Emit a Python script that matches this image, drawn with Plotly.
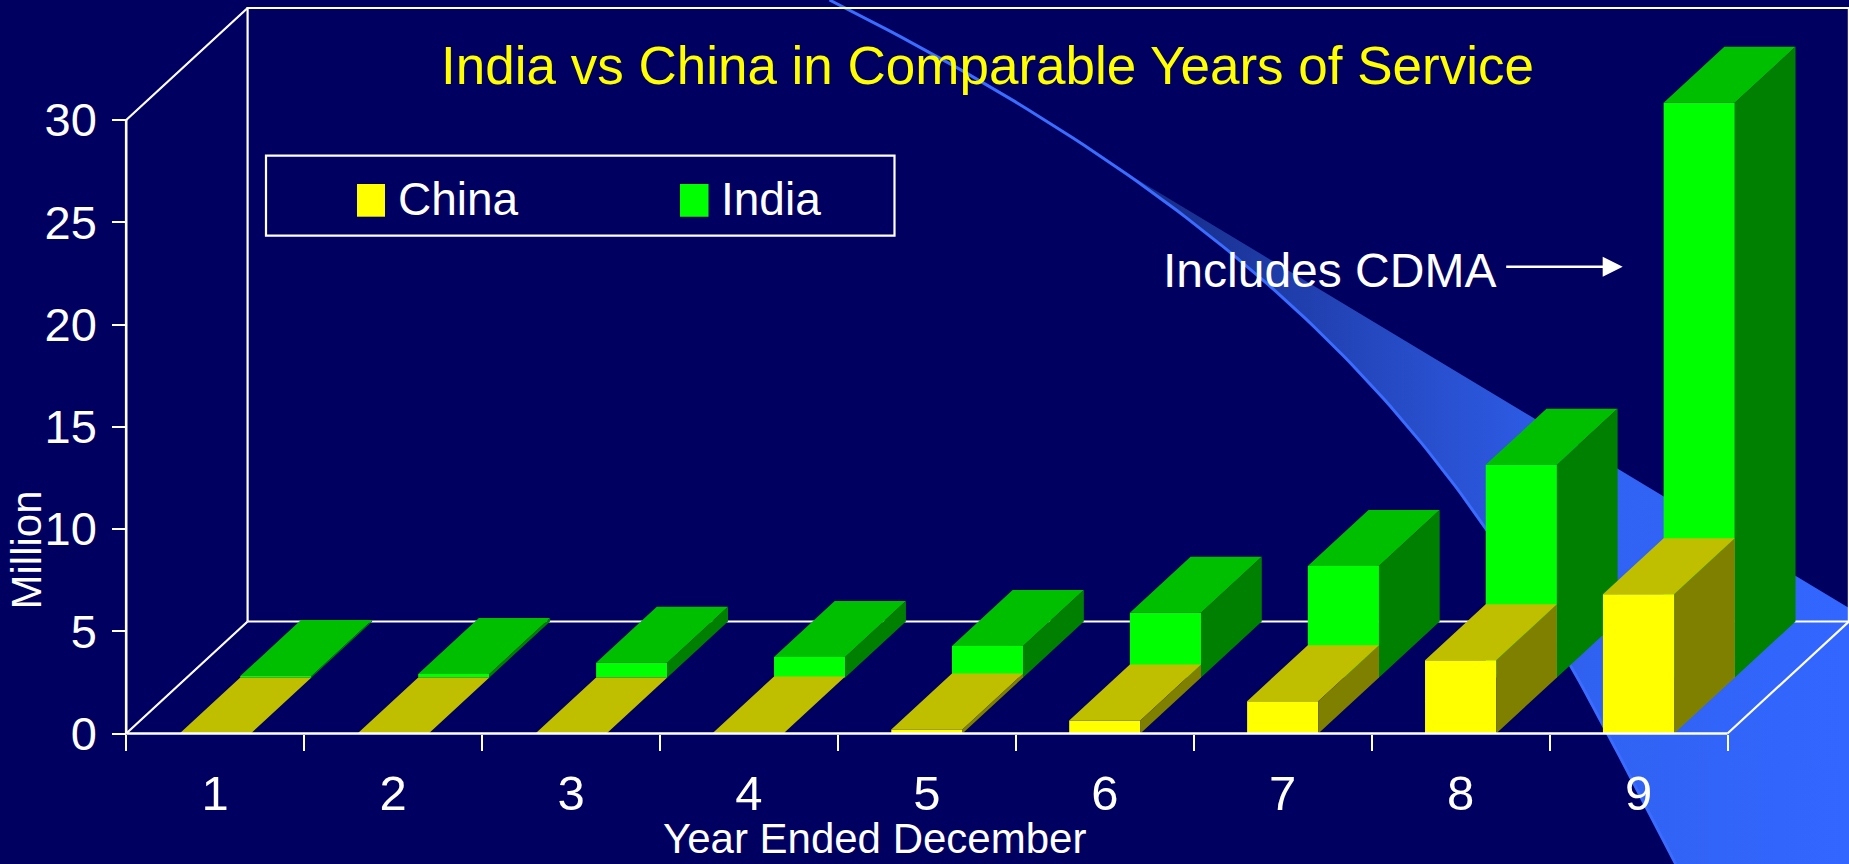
import numpy as np
import plotly.graph_objects as go

# ---------------- data ----------------
categories = ['1', '2', '3', '4', '5', '6', '7', '8', '9']
china = [0.0, 0.0, 0.0, 0.05, 0.2, 0.64, 1.58, 3.58, 6.81]
india = [0.07, 0.17, 0.72, 1.0, 1.54, 3.17, 5.45, 10.4, 28.1]
y_ticks = [0, 5, 10, 15, 20, 25, 30]
series_names = ['China', 'India']

# ---------------- geometry / style ----------------
W, H = 1849, 864
AX_LEFT_PX, AX_RIGHT_PX = 126.2, 1727.5
Y0_PX, YMAX_PX = 733.5, 120.0
DEPTH_PX = (121.4, 112.0)
BAR_W = 0.4
Y_MAX = 30

BG = '#000060'
REG = 'Liberation Sans, Arial, Helvetica, sans-serif'
NARROW = 'Liberation Sans Narrow, Arial Narrow, Liberation Sans, Arial, sans-serif'
C_FRONT, C_TOP, C_SIDE = '#ffff00', '#bfbf00', '#808000'
I_FRONT, I_TOP, I_SIDE = '#00ff00', '#00bf00', '#008000'

n = len(categories)
xpos = np.arange(1, n + 1, dtype=float)
u = n / (AX_RIGHT_PX - AX_LEFT_PX)          # x data units per px
v = Y_MAX / (Y0_PX - YMAX_PX)               # y data units per px
x_range = [0.5 - AX_LEFT_PX * u, 0.5 - AX_LEFT_PX * u + W * u]
y_range = [-(H - Y0_PX) * v, Y_MAX + YMAX_PX * v]
DX = DEPTH_PX[0] * u
DY = DEPTH_PX[1] * v


def px2d(px, py):
    return x_range[0] + px * u, y_range[1] - py * v


def faces(vals, row):
    ox, oy = row * DX / 2, row * DY / 2
    hx, hy = DX / 2, DY / 2
    f = ([], []); t = ([], []); s = ([], [])
    for c, val in zip(xpos, vals):
        xl = c - BAR_W / 2 + ox
        xr = xl + BAR_W
        b, top = oy, oy + val
        f[0].extend([xl, xr, xr, xl, xl, None]); f[1].extend([b, b, top, top, b, None])
        t[0].extend([xl, xr, xr + hx, xl + hx, xl, None]); t[1].extend([top, top, top + hy, top + hy, top, None])
        s[0].extend([xr, xr + hx, xr + hx, xr, xr, None]); s[1].extend([b, b + hy, top + hy, top, b, None])
    return f, t, s


def poly(xy, color, name=None):
    return go.Scatter(x=xy[0], y=xy[1], fill='toself', fillcolor=color, mode='lines',
                      line=dict(width=0), hoverinfo='skip' if name is None else 'name',
                      name=name, showlegend=False)


def line(xs, ys, width=2.2, color='white'):
    return go.Scatter(x=xs, y=ys, mode='lines', line=dict(color=color, width=width),
                      hoverinfo='skip', showlegend=False)


fig = go.Figure()

# ---------------- background swoosh (decoration, pixel space) ----------------
swoosh_x = [823, 938, 1046, 1129, 1212, 1276, 1361, 1415, 1486, 1580, 1612, 1672]
swoosh_y = [0, 53, 123, 173, 233, 290, 380, 447, 530, 667, 737, 864]
coef = np.polyfit(swoosh_y, swoosh_x, 3)
cy_px = np.linspace(0, H, 120)
cx_px = np.polyval(coef, cy_px)
curve = list(zip(cx_px, cy_px))

band_start_y = 165
band = [pt for pt in curve if pt[1] >= band_start_y]
band_px = band + [(W, H), (W, 608), band[0]]
bx, by = zip(*[px2d(p[0], p[1]) for p in band_px])
fig.add_trace(go.Scatter(x=bx, y=by, fill='toself', mode='lines', line=dict(width=0),
                         fillgradient=dict(type='horizontal',
                                           colorscale=[[0, '#14277f'], [0.35, '#2548c0'],
                                                       [0.65, '#3062f2'], [1, '#3366ff']]),
                         hoverinfo='skip', showlegend=False))
cx, cy = zip(*[px2d(p[0], p[1]) for p in curve])
fig.add_trace(line(cx, cy, width=3, color='#3a6cff'))

# ---------------- back frame (walls) ----------------
X0, X1 = xpos[0] - 0.5, xpos[-1] + 0.5
fig.add_trace(line([X0 + DX, X0 + DX, X1 + DX, X1 + DX, X0 + DX],
                   [DY, Y_MAX + DY, Y_MAX + DY, DY, DY]))
fig.add_trace(line([X0, X0 + DX], [Y_MAX, Y_MAX + DY]))
fig.add_trace(line([X0, X0 + DX], [0, DY]))
fig.add_trace(line([X1, X1 + DX], [0, DY]))

# ---------------- 3D bars ----------------
fi, ti, si = faces(india, 1)
fc, tc, sc = faces(china, 0)
fig.add_trace(poly(fi, I_FRONT, 'India'))
fig.add_trace(poly(ti, I_TOP))
fig.add_trace(poly(si, I_SIDE))
fig.add_trace(poly(fc, C_FRONT, 'China'))
fig.add_trace(poly(tc, C_TOP))
fig.add_trace(poly(sc, C_SIDE))

# ---------------- front axis lines ----------------
fig.add_trace(line([X0, X1], [0, 0], width=2.6))
fig.add_trace(line([X0, X0], [0, Y_MAX], width=2.6))

# ---------------- layout ----------------
boundaries = list(np.append(xpos - 0.5, xpos[-1] + 0.5))


def pf(px, py):
    return px / W, 1 - py / H


shapes = [
    dict(type='rect', xref='paper', yref='paper',
         x0=pf(266, 0)[0], x1=pf(894.5, 0)[0], y0=pf(0, 235.7)[1], y1=pf(0, 155.7)[1],
         line=dict(color='white', width=2.2), fillcolor='rgba(0,0,0,0)'),
    dict(type='rect', xref='paper', yref='paper',
         x0=pf(357, 0)[0], x1=pf(385, 0)[0], y0=pf(0, 216.7)[1], y1=pf(0, 184)[1],
         line=dict(width=0), fillcolor=C_FRONT),
    dict(type='rect', xref='paper', yref='paper',
         x0=pf(680, 0)[0], x1=pf(708.5, 0)[0], y0=pf(0, 216.7)[1], y1=pf(0, 184)[1],
         line=dict(width=0), fillcolor=I_FRONT),
]

annotations = [
    dict(text='India vs China in Comparable Years of Service', x=pf(987.5, 0)[0], y=pf(0, 65.8)[1],
         xref='paper', yref='paper', xanchor='center', yanchor='middle', showarrow=False,
         font=dict(family=REG, size=53, color='#ffff00')),
    dict(text=series_names[0], x=pf(396, 0)[0], y=pf(0, 199)[1], xref='paper', yref='paper',
         xanchor='left', yanchor='middle', showarrow=False,
         font=dict(family=NARROW, size=46, color='white')),
    dict(text=series_names[1], x=pf(719, 0)[0], y=pf(0, 199)[1], xref='paper', yref='paper',
         xanchor='left', yanchor='middle', showarrow=False,
         font=dict(family=NARROW, size=46, color='white')),
    dict(text='Includes CDMA', x=pf(1329.8, 0)[0], y=pf(0, 270.8)[1], xref='paper', yref='paper',
         xanchor='center', yanchor='middle', showarrow=False,
         font=dict(family=REG, size=48, color='white')),
    dict(text='', x=pf(1622.7, 0)[0], y=pf(0, 266.7)[1], xref='paper', yref='paper',
         ax=-118, ay=0, showarrow=True, arrowhead=2, arrowsize=1.6, arrowwidth=2.5,
         arrowcolor='white'),
    dict(text='Million', x=pf(26, 0)[0], y=pf(0, 550.5)[1], xref='paper', yref='paper',
         xanchor='center', yanchor='middle', showarrow=False, textangle=-90,
         font=dict(family=REG, size=42, color='white')),
    dict(text='Year Ended December', x=pf(874.5, 0)[0], y=pf(0, 838)[1], xref='paper', yref='paper',
         xanchor='center', yanchor='middle', showarrow=False,
         font=dict(family=REG, size=42, color='white')),
]

fig.update_layout(
    width=W, height=H, autosize=False,
    margin=dict(l=0, r=0, t=0, b=0, pad=0),
    paper_bgcolor=BG, plot_bgcolor=BG,
    showlegend=False,
    xaxis=dict(range=x_range, domain=[0, 1], anchor='free', position=(H - Y0_PX) / H,
               tickmode='array', tickvals=list(xpos), ticktext=categories, ticks='',
               showline=False, showgrid=False, zeroline=False, fixedrange=True,
               tickfont=dict(family=NARROW, size=49, color='white'), ticklabelstandoff=26,
               minor=dict(tickmode='array', tickvals=boundaries, ticks='outside', ticklen=16,
                          tickwidth=2, tickcolor='white', showgrid=False)),
    yaxis=dict(range=y_range, domain=[0, 1], anchor='free', position=AX_LEFT_PX / W,
               tickmode='array', tickvals=y_ticks, ticktext=[str(t) for t in y_ticks],
               ticks='outside', ticklen=14, tickwidth=2, tickcolor='white',
               showline=False, showgrid=False, zeroline=False, fixedrange=True,
               tickfont=dict(family=NARROW, size=47, color='white'), ticklabelstandoff=6),
    shapes=shapes,
    annotations=annotations,
)

fig.write_html('out.html')
